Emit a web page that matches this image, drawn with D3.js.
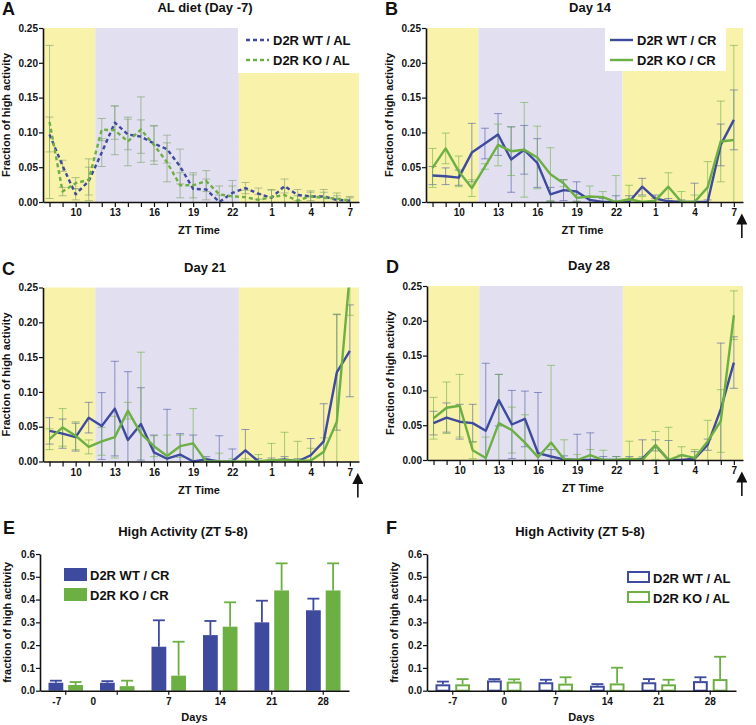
<!DOCTYPE html>
<html><head><meta charset="utf-8">
<script src="https://cdnjs.cloudflare.com/ajax/libs/d3/7.8.5/d3.min.js"></script>
<style>
body{margin:0;background:#fff}
svg{display:block}
text{font-family:"Liberation Sans",Arial,Helvetica,sans-serif;font-weight:bold;fill:#111}
</style>
</head><body>
<svg id="c" width="756" height="725"></svg>
<script>
// ---------------- DATA ----------------
const ztHours = [8,9,10,11,12,13,14,15,16,17,18,19,20,21,22,23,24,25,26,27,28,29,30,31];
const ztLabelHours = [10,13,16,19,22,25,28,31];
const yTicksLine = [0,0.05,0.10,0.15,0.20,0.25];
const phases = [{from:7.5,to:11.5,kind:'light'},{from:11.5,to:22.5,kind:'dark'},{from:22.5,to:31.7,kind:'light'}];

// Panel A: AL diet (Day -7)
const alWT    = [0.097,0.052,0.011,0.030,0.071,0.114,0.097,0.094,0.084,0.076,0.051,0.019,0.018,0.000,0.013,0.020,0.012,0.006,0.023,0.010,0.008,0.008,0.003,0.002];
const alWTErr = [0.025,0.008,0.008,0.020,0.020,0.024,0.022,0.024,0.025,0.020,0.025,0.020,0.015,0.010,0.018,0.008,0.008,0.012,0.010,0.008,0.006,0.010,0.006,0.004];
const alKO    = [0.115,0.015,0.027,0.032,0.104,0.103,0.087,0.104,0.082,0.057,0.024,0.024,0.030,0.011,0.008,0.007,0.003,0.007,0.010,0.002,0.008,0.006,0.005,0.002];
const alKOErr = [0.110,0.006,0.008,0.030,0.016,0.035,0.035,0.047,0.028,0.028,0.018,0.018,0.015,0.012,0.015,0.010,0.008,0.010,0.010,0.007,0.008,0.008,0.008,0.006];

// Panel B: Day 14
const d14WT    = [0.038,0.037,0.035,0.071,0.084,0.097,0.061,0.075,0.056,0.011,0.017,0.015,0.003,0.000,0.000,0.000,0.022,0.005,0.001,0.000,0.000,0.000,0.082,0.118];
const d14WTErr = [0.013,0.012,0.011,0.042,0.022,0.030,0.047,0.035,0.035,0.010,0.015,0.014,0.005,0.005,0.009,0.009,0.012,0.005,0.004,0.003,0.027,0.003,0.030,0.043];
const d14KO    = [0.049,0.077,0.044,0.020,0.051,0.082,0.073,0.075,0.064,0.040,0.027,0.006,0.008,0.007,0.000,0.004,0.000,0.002,0.022,0.000,0.000,0.021,0.087,0.089];
const d14KOErr = [0.028,0.022,0.022,0.012,0.004,0.030,0.035,0.068,0.045,0.038,0.005,0.005,0.015,0.008,0.038,0.020,0.008,0.003,0.020,0.015,0.010,0.037,0.058,0.136];

// Panel C: Day 21
const d21WT    = [0.044,0.040,0.035,0.063,0.051,0.076,0.031,0.054,0.013,0.004,0.010,0.000,0.003,0.000,0.000,0.016,0.000,0.001,0.003,0.000,0.009,0.029,0.128,0.159];
const d21WTErr = [0.019,0.021,0.020,0.022,0.048,0.068,0.098,0.052,0.025,0.071,0.030,0.038,0.004,0.037,0.018,0.030,0.004,0.004,0.004,0.004,0.024,0.054,0.083,0.066];
const d21KO    = [0.032,0.049,0.037,0.021,0.029,0.035,0.073,0.040,0.022,0.008,0.022,0.026,0.000,0.000,0.000,0.000,0.000,0.002,0.002,0.001,0.001,0.014,0.057,0.270];
const d21KOErr = [0.015,0.027,0.020,0.010,0.020,0.030,0.012,0.117,0.015,0.030,0.016,0.050,0.004,0.012,0.004,0.004,0.010,0.024,0.040,0.028,0.018,0.020,0.155,0.060];

// Panel D: Day 28
const d28WT    = [0.053,0.061,0.055,0.053,0.042,0.086,0.051,0.059,0.010,0.005,0.001,0.000,0.000,0.000,0.000,0.000,0.002,0.021,0.000,0.000,0.002,0.022,0.073,0.140];
const d28WTErr = [0.017,0.021,0.025,0.027,0.097,0.037,0.049,0.040,0.087,0.010,0.005,0.037,0.039,0.005,0.005,0.005,0.027,0.008,0.028,0.007,0.010,0.008,0.095,0.037];
const d28KO    = [0.060,0.075,0.078,0.014,0.003,0.053,0.043,0.025,0.004,0.025,0.001,0.000,0.007,0.000,0.000,0.002,0.000,0.021,0.000,0.007,0.003,0.027,0.056,0.208];
const d28KOErr = [0.030,0.037,0.045,0.012,0.030,0.070,0.033,0.040,0.006,0.111,0.028,0.008,0.008,0.014,0.005,0.025,0.005,0.020,0.047,0.012,0.012,0.030,0.045,0.035];

// Panels E / F: High Activity (ZT 5-8)
const days = ['-7','0','7','14','21','28'];
const yTicksBar = [0,0.1,0.2,0.3,0.4,0.5,0.6];
const crWT    = [0.035,0.035,0.193,0.244,0.300,0.353];
const crWTErr = [0.009,0.007,0.116,0.062,0.095,0.051];
const crKO    = [0.025,0.020,0.066,0.281,0.440,0.440];
const crKOErr = [0.013,0.024,0.149,0.107,0.119,0.119];
const albWT    = [0.028,0.045,0.037,0.022,0.037,0.042];
const albWTErr = [0.012,0.006,0.011,0.007,0.014,0.017];
const albKO    = [0.028,0.040,0.031,0.032,0.028,0.051];
const albKOErr = [0.023,0.010,0.028,0.069,0.020,0.098];

// ---------------- STYLE ----------------
const YELLOW = '#f9f2ab', LAV = '#e3e1f1';
const BLUE = '#3e4a9e', GREEN = '#6cb044';
const BLUE_ERR = 'rgba(62,74,158,0.55)', GREEN_ERR = 'rgba(108,176,68,0.6)';
// label nudges seen in panel E's original x axis (pixels)
const eLabelNudge = {'-7':-9,'0':-24};

const svg = d3.select('#c');
const defs = svg.append('defs');
const pat = defs.append('pattern').attr('id','hatch').attr('width',3).attr('height',3)
  .attr('patternUnits','userSpaceOnUse').attr('patternTransform','rotate(45)');
pat.append('rect').attr('width',3).attr('height',3).attr('fill',LAV);
pat.append('line').attr('x1',0).attr('y1',0).attr('x2',0).attr('y2',3).attr('stroke','#dcdaec').attr('stroke-width',0.8);
defs.append('marker').attr('id','arrowhead').attr('viewBox','0 0 10 10').attr('refX',5).attr('refY',5)
  .attr('markerWidth',7).attr('markerHeight',7).attr('orient','auto')
  .append('path').attr('d','M0,0 L10,5 L0,10 z').attr('fill','#111');

function styleAxis(sel, fs){
  sel.selectAll('path.domain').attr('stroke','#111').attr('stroke-width',1.6);
  sel.selectAll('.tick line').attr('stroke','#111').attr('stroke-width',1.2);
  sel.selectAll('.tick text').style('font-size',fs+'px').style('font-weight','bold')
     .style('font-family','"Liberation Sans",Arial,sans-serif').attr('fill','#111');
}

let clipId = 0;
function linePanel(p){
  const x = d3.scaleLinear().domain([7.5,31.7]).range([p.left,p.right]);
  const y = d3.scaleLinear().domain([0,0.25]).range([p.bottom,p.top]);
  const g = svg.append('g');
  phases.forEach(ph=>{
    g.append('rect').attr('x',x(ph.from)).attr('width',x(ph.to)-x(ph.from))
     .attr('y',y(0.25)).attr('height',y(0)-y(0.25))
     .attr('fill', ph.kind==='light' ? YELLOW : 'url(#hatch)');
  });
  if(p.legend){
    g.append('rect').attr('x',p.legend.boxX).attr('y',y(0.25)).attr('width',p.legend.boxW)
     .attr('height',p.legend.boxH).attr('fill','#fff');
  }
  const cid = 'clip'+(clipId++);
  defs.append('clipPath').attr('id',cid).append('rect')
    .attr('x',p.left).attr('y',y(0.25)).attr('width',p.right-p.left).attr('height',y(0)-y(0.25)+1);
  const plot = g.append('g').attr('clip-path',`url(#${cid})`);
  p.series.forEach(s=>{
    const eg = plot.append('g').attr('stroke',s.errColor).attr('stroke-width',1).attr('fill','none');
    ztHours.forEach((h,i)=>{
      const v=s.vals[i], e=s.errs[i];
      const lo=Math.max(0,v-e), hi=v+e, cx=x(h);
      eg.append('line').attr('x1',cx).attr('x2',cx).attr('y1',y(lo)).attr('y2',y(hi));
      eg.append('line').attr('x1',cx-4).attr('x2',cx+4).attr('y1',y(hi)).attr('y2',y(hi));
      if(lo>0) eg.append('line').attr('x1',cx-4).attr('x2',cx+4).attr('y1',y(lo)).attr('y2',y(lo));
    });
  });
  p.series.forEach(s=>{
    plot.append('path').datum(s.vals)
      .attr('d',d3.line().x((d,i)=>x(ztHours[i])).y(d=>y(d)))
      .attr('fill','none').attr('stroke',s.color).attr('stroke-width',2.4)
      .attr('stroke-linejoin','round')
      .attr('stroke-dasharray',s.dash||null);
  });
  const ya = g.append('g').attr('transform',`translate(${p.left},0)`)
    .call(d3.axisLeft(y).tickValues(yTicksLine).tickFormat(d3.format('.2f')).tickSize(4).tickSizeOuter(0).tickPadding(1));
  styleAxis(ya,10);
  const xa = g.append('g').attr('transform',`translate(0,${p.bottom})`)
    .call(d3.axisBottom(x).tickValues(ztHours).tickFormat(h=>ztLabelHours.includes(h)? String(h%24):'').tickSize(5).tickSizeOuter(0).tickPadding(2));
  styleAxis(xa,10);
  g.append('text').attr('x',(p.left+p.right)/2 - 2).attr('y',p.bottom+32).attr('text-anchor','middle')
    .style('font-size','11px').text('ZT Time');
  g.append('text').attr('transform',`translate(${p.left-33},${(p.top+p.bottom)/2}) rotate(-90)`)
    .attr('text-anchor','middle').style('font-size','11px').text('Fraction of high activity');
  g.append('text').attr('x',p.titleX).attr('y',p.top-16).attr('text-anchor','middle')
    .style('font-size','13px').text(p.title);
  g.append('text').attr('x',p.left-41).attr('y',p.top-13).style('font-size','18px').text(p.letter);
  if(p.legend){
    p.series.forEach((s,i)=>{
      const ly = y(0.25)+12+i*20;
      g.append('line').attr('x1',p.legend.lineX).attr('x2',p.legend.lineX+23).attr('y1',ly).attr('y2',ly)
        .attr('stroke',s.color).attr('stroke-width',2.4).attr('stroke-dasharray',s.dash||null);
      g.append('text').attr('x',p.legend.lineX+27).attr('y',ly+5).style('font-size','13px').text(s.name);
    });
  }
  if(p.arrow){
    const ax = x(31)+8;
    g.append('line').attr('x1',ax).attr('x2',ax).attr('y1',p.bottom+36).attr('y2',p.bottom+17)
      .attr('stroke','#111').attr('stroke-width',1.6).attr('marker-end','url(#arrowhead)');
  }
}

linePanel({left:43,right:359,top:28,bottom:202,title:'AL diet (Day -7)',titleX:205,letter:'A',
  legend:{boxX:238,boxW:121,boxH:45,lineX:246},
  series:[{vals:alWT,errs:alWTErr,color:BLUE,errColor:'rgba(120,150,110,0.55)',dash:'4,3',name:'D2R WT / AL'},
          {vals:alKO,errs:alKOErr,color:GREEN,errColor:'rgba(120,160,100,0.6)',dash:'4,3',name:'D2R KO / AL'}]});
linePanel({left:426,right:743,top:28,bottom:202,title:'Day 14',titleX:590,letter:'B',arrow:true,
  legend:{boxX:605,boxW:121,boxH:43,lineX:610},
  series:[{vals:d14WT,errs:d14WTErr,color:BLUE,errColor:BLUE_ERR,name:'D2R WT / CR'},
          {vals:d14KO,errs:d14KOErr,color:GREEN,errColor:GREEN_ERR,name:'D2R KO / CR'}]});
linePanel({left:43,right:359,top:287.5,bottom:461.5,title:'Day 21',titleX:205,letter:'C',arrow:true,
  series:[{vals:d21WT,errs:d21WTErr,color:BLUE,errColor:BLUE_ERR,name:'D2R WT / CR'},
          {vals:d21KO,errs:d21KOErr,color:GREEN,errColor:GREEN_ERR,name:'D2R KO / CR'}]});
linePanel({left:427,right:743,top:286,bottom:460,title:'Day 28',titleX:589,letter:'D',arrow:true,
  series:[{vals:d28WT,errs:d28WTErr,color:BLUE,errColor:BLUE_ERR,name:'D2R WT / CR'},
          {vals:d28KO,errs:d28KOErr,color:GREEN,errColor:GREEN_ERR,name:'D2R KO / CR'}]});

function barPanel(p){
  const x = d3.scaleBand().domain(days).range([p.left,p.right]).padding(0);
  const xi = d3.scaleBand().domain(['WT','KO']).range([8.5,43]).paddingInner(0.25);
  const y = d3.scaleLinear().domain([0,0.6]).range([p.bottom,p.top]);
  const g = svg.append('g');
  const groups = [{key:'WT',vals:p.wt,errs:p.wtErr,color:BLUE},{key:'KO',vals:p.ko,errs:p.koErr,color:GREEN}];
  groups.forEach(s=>{
    days.forEach((d,i)=>{
      const bx = x(d)+xi(s.key), bw = xi.bandwidth(), cx = bx+bw/2;
      const top = y(s.vals[i]+s.errs[i]);
      g.append('line').attr('x1',cx).attr('x2',cx).attr('y1',y(s.vals[i])).attr('y2',top)
        .attr('stroke',s.color).attr('stroke-width',1.8);
      g.append('line').attr('x1',cx-6).attr('x2',cx+6).attr('y1',top).attr('y2',top)
        .attr('stroke',s.color).attr('stroke-width',1.8);
      if(p.filled){
        g.append('rect').attr('x',bx).attr('y',y(s.vals[i])).attr('width',bw).attr('height',y(0)-y(s.vals[i]))
          .attr('fill',s.color);
      } else {
        g.append('rect').attr('x',bx+1).attr('y',y(s.vals[i])+1).attr('width',bw-2).attr('height',Math.max(0,y(0)-y(s.vals[i])-1))
          .attr('fill','#fff').attr('stroke',s.color).attr('stroke-width',2);
      }
    });
  });
  const ya = g.append('g').attr('transform',`translate(${p.left},0)`)
    .call(d3.axisLeft(y).tickValues(yTicksBar).tickFormat(d3.format('.1f')).tickSize(4).tickSizeOuter(0).tickPadding(1));
  styleAxis(ya,10);
  const xa = g.append('g').attr('transform',`translate(0,${p.bottom})`)
    .call(d3.axisBottom(x).tickSize(4).tickSizeOuter(0).tickPadding(3));
  styleAxis(xa,10);
  if(p.nudge){
    xa.selectAll('.tick text').attr('dx',d=>(p.nudge[d]||0));
  }
  g.append('text').attr('x',(p.left+p.right)/2).attr('y',p.bottom+30).attr('text-anchor','middle')
    .style('font-size','11px').text('Days');
  g.append('text').attr('transform',`translate(${p.left-29},${(p.top+p.bottom)/2}) rotate(-90)`)
    .attr('text-anchor','middle').style('font-size','11px').text('fraction of high activity');
  g.append('text').attr('x',p.titleX).attr('y',p.titleY).attr('text-anchor','middle')
    .style('font-size','13px').text(p.title);
  g.append('text').attr('x',p.letterX).attr('y',p.titleY-2).style('font-size','18px').text(p.letter);
  groups.forEach((s,i)=>{
    const ly = p.legY + i*20;
    if(p.filled){
      g.append('rect').attr('x',p.legX).attr('y',ly).attr('width',23).attr('height',13).attr('fill',s.color);
    } else {
      g.append('rect').attr('x',p.legX+1).attr('y',ly+1).attr('width',21).attr('height',10)
        .attr('fill','#fff').attr('stroke',s.color).attr('stroke-width',2);
    }
    g.append('text').attr('x',p.legX+26).attr('y',ly+11.5).style('font-size','13px').text(p.names[i]);
  });
}

barPanel({left:40,right:349,top:554,bottom:690.7,filled:true,title:'High Activity (ZT 5-8)',titleX:183,titleY:536,
  letter:'E',letterX:3,legX:64,legY:568,names:['D2R WT / CR','D2R KO / CR'],nudge:eLabelNudge,
  wt:crWT,wtErr:crWTErr,ko:crKO,koErr:crKOErr});
barPanel({left:427,right:736,top:554,bottom:690.7,filled:false,title:'High Activity (ZT 5-8)',titleX:580,titleY:536,
  letter:'F',letterX:386,legX:627,legY:571,names:['D2R WT / AL','D2R KO / AL'],
  wt:albWT,wtErr:albWTErr,ko:albKO,koErr:albKOErr});
</script>
</body></html>
